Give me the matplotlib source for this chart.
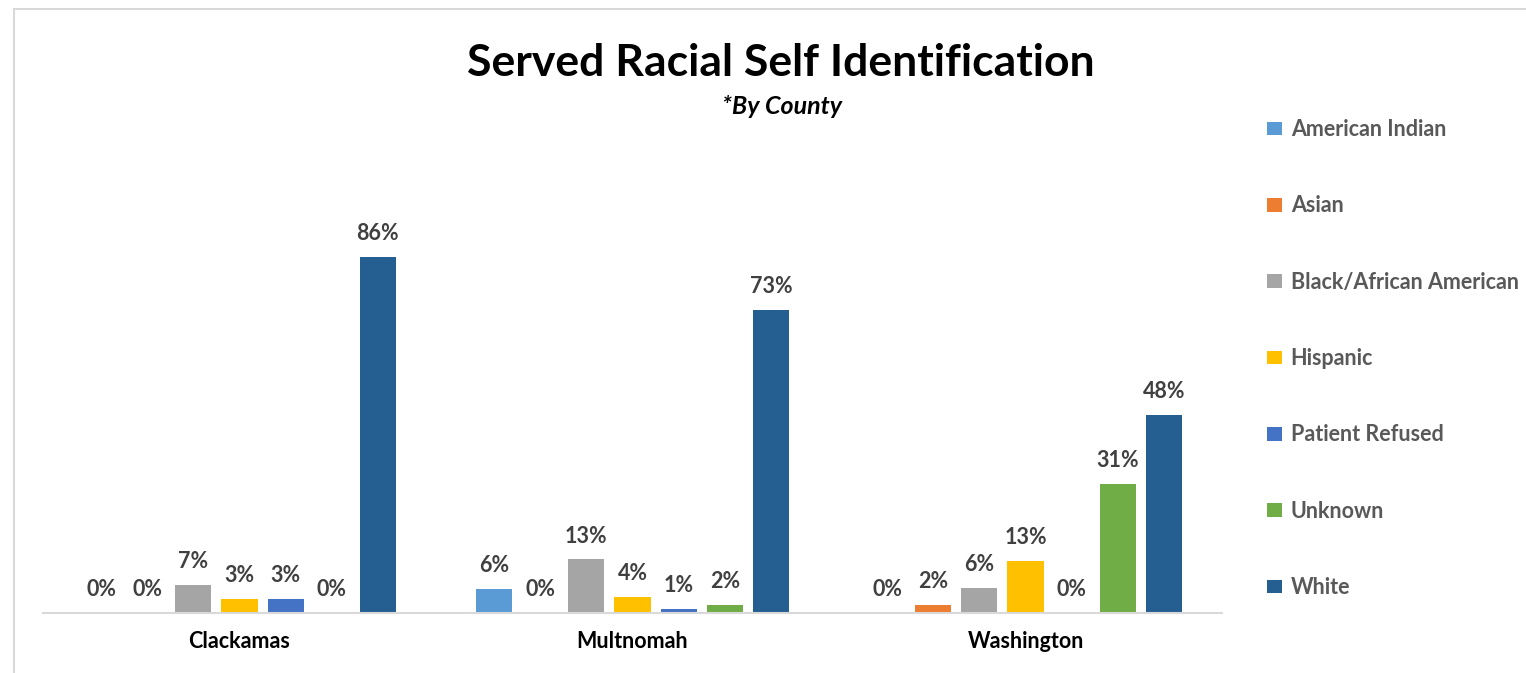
import numpy as np
import matplotlib.pyplot as plt
from matplotlib.lines import Line2D

counties = ["Clackamas", "Multnomah", "Washington"]
groups = ["American Indian", "Asian", "Black/African American", "Hispanic",
          "Patient Refused", "Unknown", "White"]
colors = ["#5B9BD5", "#ED7D31", "#A5A5A5", "#FFC000", "#4472C4", "#70AD47", "#255E91"]

# percent served, one list per group (Clackamas, Multnomah, Washington)
american_indian = [0, 5.8, 0]
asian = [0, 0, 1.9]
black = [6.8, 13.0, 6.0]
hispanic = [3.4, 3.9, 12.6]
refused = [3.4, 1.0, 0]
unknown = [0, 1.9, 31.2]
white = [86.0, 73.2, 47.8]
values = [american_indian, asian, black, hispanic, refused, unknown, white]

plt.rcParams['font.family'] = ['Lato', 'DejaVu Sans']

fig = plt.figure(figsize=(15.26, 6.73), dpi=100)
ax = fig.add_axes([43/1526, 1 - 613/673, (1222 - 43)/1526, (613 - 199)/673])

x = np.arange(len(counties))
step = 46/392
width = 36/392
for i, (name, vals, c) in enumerate(zip(groups, values, colors)):
    pos = x + (i - 3) * step
    bars = ax.bar(pos, vals, width, color=c, label=name)
    for xp, v in zip(pos, vals):
        ax.annotate("{:.0f}%".format(v), (xp, v), xytext=(0, 12),
                    textcoords="offset points", ha="center", va="baseline",
                    fontsize=15.5, fontweight="bold", color="#404040")

ax.set_xlim(-0.5, 2.5)
ax.set_ylim(0, 100)
ax.set_xticks(x)
ax.set_xticklabels(counties, fontsize=15.5, fontweight="bold", color="black")
ax.tick_params(axis="x", length=0, pad=13)
ax.set_yticks([])
for s in ["top", "right", "left"]:
    ax.spines[s].set_visible(False)
ax.spines["bottom"].set_color("#D9D9D9")
ax.spines["bottom"].set_linewidth(1.5)

fig.text(781/1526, 1 - 63/673, "Served Racial Self Identification", ha="center",
         va="center", fontsize=32, fontweight="bold", color="black")
fig.text(782/1526, 1 - 106/673, "*By County", ha="center", va="center",
         fontsize=18, fontweight="bold", style="italic", color="black")

leg = fig.legend(loc="upper left", bbox_to_anchor=(1267/1526, 1 - 119/673),
                 frameon=False, fontsize=15.5, labelspacing=2.57, handlelength=0.7,
                 handleheight=0.6, handletextpad=0.4, borderaxespad=0, borderpad=0)
for t in leg.get_texts():
    t.set_color("#595959")
    t.set_fontweight("bold")

# chart frame
fig.add_artist(Line2D([14/1526, 1], [1 - 9/673, 1 - 9/673], color="#D9D9D9", lw=1.5))
fig.add_artist(Line2D([14/1526, 14/1526], [0, 1 - 9/673], color="#D9D9D9", lw=1.5))

fig.savefig("out.png", dpi=100, facecolor="white")
